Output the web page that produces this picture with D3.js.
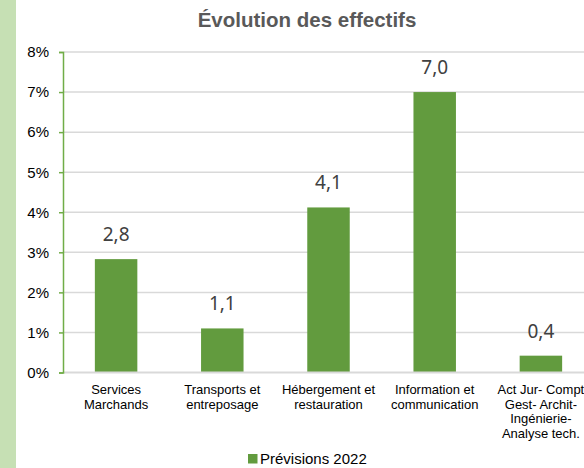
<!DOCTYPE html>
<html>
<head>
<meta charset="utf-8">
<script src="https://cdn.jsdelivr.net/npm/d3@7"></script>
<style>
    body { margin: 0; background: #fff; }
    svg { display: block; }
</style>
</head>
<body>
<div id="chart"></div>
<script>
// data
const categories = [
    ["Services", "Marchands"],
    ["Transports et", "entreposage"],
    ["Hébergement et", "restauration"],
    ["Information et", "communication"],
    ["Act Jur- Compt", "Gest- Archit-", "Ingénierie-", "Analyse tech."]
];
const values = [2.83, 1.1, 4.12, 7.0, 0.42];
const yTicks = [0, 1, 2, 3, 4, 5, 6, 7, 8];
const seriesName = "Prévisions 2022";

const width = 584, height = 468;
const barColor = "#629b3e";

const svg = d3.select("#chart")
    .append("svg")
    .attr("width", width)
    .attr("height", height);

// light green band on the left
svg.append("rect")
    .attr("x", 0).attr("y", 0)
    .attr("width", 16).attr("height", height)
    .attr("fill", "#c6e0b4");

const xScale = d3.scaleBand()
    .domain(d3.range(values.length))
    .range([63, 594])
    .paddingInner(0.6)
    .paddingOuter(0.3);

const yScale = d3.scaleLinear()
    .domain([0, 8])
    .range([372.5, 52]);

// gridlines
svg.append("g")
    .selectAll("line")
    .data(yTicks.filter(d => d > 0))
    .enter()
    .append("line")
    .attr("x1", 63)
    .attr("x2", 594)
    .attr("y1", d => yScale(d))
    .attr("y2", d => yScale(d))
    .attr("stroke", "#d9d9d9")
    .attr("stroke-width", 1.5);

// bars
svg.append("g")
    .selectAll("rect")
    .data(values)
    .enter()
    .append("rect")
    .attr("x", (d, i) => xScale(i))
    .attr("y", d => yScale(d))
    .attr("width", xScale.bandwidth())
    .attr("height", d => yScale(0) - yScale(d))
    .attr("fill", barColor);

// baseline
svg.append("line")
    .attr("x1", 63).attr("x2", 594)
    .attr("y1", yScale(0)).attr("y2", yScale(0))
    .attr("stroke", "#d9d9d9")
    .attr("stroke-width", 2);

// y axis
const yAxis = svg.append("g")
    .attr("transform", "translate(63,0)")
    .call(d3.axisLeft(yScale)
        .tickValues(yTicks)
        .tickSize(4)
        .tickPadding(10)
        .tickFormat(d => d + "%"));
yAxis.select(".domain").attr("stroke", "#70ad47").attr("stroke-width", 1.5);
yAxis.selectAll(".tick line").attr("stroke", "#70ad47").attr("stroke-width", 1.5);
yAxis.selectAll(".tick text")
    .attr("fill", "#000")
    .style("font", "15px Arial, 'Liberation Sans', sans-serif");

// value labels
svg.append("g")
    .selectAll("text")
    .data(values)
    .enter()
    .append("text")
    .attr("x", (d, i) => xScale(i) + xScale.bandwidth() / 2)
    .attr("y", d => yScale(d) - 18)
    .attr("text-anchor", "middle")
    .attr("fill", "#404040")
    .style("font", "19px 'Noto Sans', sans-serif")
    .text(d => d.toFixed(1).replace(".", ","));

// category labels
const cat = svg.append("g")
    .selectAll("text")
    .data(categories)
    .enter()
    .append("text")
    .attr("x", (d, i) => xScale(i) + xScale.bandwidth() / 2)
    .attr("y", 394)
    .attr("text-anchor", "middle")
    .attr("fill", "#000")
    .style("font", "13px Arial, 'Liberation Sans', sans-serif");
cat.selectAll("tspan")
    .data(d => d)
    .enter()
    .append("tspan")
    .attr("x", function () { return d3.select(this.parentNode).attr("x"); })
    .attr("dy", (d, i) => i == 0 ? 0 : 14.6)
    .text(d => d);

// title
svg.append("text")
    .attr("x", 307)
    .attr("y", 27)
    .attr("text-anchor", "middle")
    .attr("fill", "#595959")
    .style("font", "bold 20.5px Arial, 'Liberation Sans', sans-serif")
    .text("Évolution des effectifs");

// legend
const legend = svg.append("g")
    .attr("transform", "translate(248,454)");
legend.append("rect")
    .attr("width", 9.5)
    .attr("height", 9.5)
    .attr("fill", barColor);
legend.append("text")
    .attr("x", 12)
    .attr("y", 9.5)
    .attr("fill", "#000")
    .style("font", "15px Arial, 'Liberation Sans', sans-serif")
    .text(seriesName);
</script>
</body>
</html>
